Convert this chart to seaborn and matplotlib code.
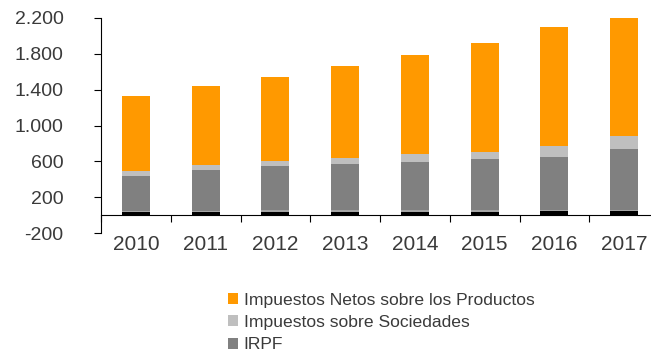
import matplotlib
matplotlib.use("Agg")
import matplotlib.pyplot as plt
from matplotlib.patches import Patch
import numpy as np
import pandas as pd
import seaborn as sns

years = ["2010", "2011", "2012", "2013", "2014", "2015", "2016", "2017"]
otros = [30, 32, 35, 36, 38, 40, 45, 48]
cotizaciones = [12, 12, 20, 20, 15, 15, 15, 10]
irpf = [395, 463, 493, 514, 543, 567, 588, 675]
sociedades = [52, 49, 59, 67, 89, 78, 119, 148]
productos = [844, 888, 934, 1026, 1104, 1226, 1329, 1323]

yticks = [-200, 200, 600, 1000, 1400, 1800, 2200]

series = [
    ("Otros", otros, "#000000"),
    ("Cotizaciones", cotizaciones, "#A6A6A6"),
    ("IRPF", irpf, "#808080"),
    ("Impuestos sobre Sociedades", sociedades, "#BFBFBF"),
    ("Impuestos Netos sobre los Productos", productos, "#FF9900"),
]

sns.set_theme(style="white")
plt.rcParams["font.family"] = ["Liberation Sans", "DejaVu Sans"]
text_color = "#3a3a3a"

fig = plt.figure(figsize=(6.51, 3.54), dpi=100)
ax = fig.add_axes([101 / 651, 1 - 233 / 354, 558 / 651, 215 / 354])

# stacked bars: draw cumulative totals from the top layer down
df = pd.DataFrame({"year": years})
cum = np.zeros(len(years))
cums = []
for name, vals, col in series:
    cum = cum + np.array(vals)
    cums.append((name, cum.copy(), col))
for name, vals, col in reversed(cums):
    sns.barplot(x=df["year"], y=vals, color=col, width=0.4, ax=ax,
                saturation=1, edgecolor="none", linewidth=0)

ax.set_xlim(-0.5, 7.5)
ax.set_ylim(-200, 2200)
ax.set_xlabel("")
ax.set_ylabel("")

for s in ["top", "right"]:
    ax.spines[s].set_visible(False)
ax.spines["bottom"].set_position(("data", 0))
ax.spines["bottom"].set_color("#000000")
ax.spines["left"].set_color("#000000")
ax.spines["bottom"].set_linewidth(0.8)
ax.spines["left"].set_linewidth(0.8)

ax.set_yticks(yticks)
ax.set_yticklabels([f"{v:,}".replace(",", ".") for v in yticks],
                   fontsize=14, color=text_color)
ax.tick_params(axis="y", direction="out", length=5, width=0.8,
               color="#000000", left=True, pad=22)

# category labels centred, ticks at category boundaries
ax.set_xticks(range(len(years)))
ax.set_xticklabels(years, fontsize=15, color=text_color)
ax.tick_params(axis="x", which="major", length=0, pad=14)
ax.set_xticks(np.arange(-0.5, len(years), 1.0), minor=True)
ax.tick_params(axis="x", which="minor", direction="out", length=5,
               width=0.8, color="#000000", bottom=True)
ax.grid(False)

handles = [Patch(facecolor=col, edgecolor="none", label=name)
           for name, vals, col in reversed(series[2:])]
fig.legend(handles=handles, loc="upper left",
           bbox_to_anchor=(219 / 651, 1 - 284 / 354),
           frameon=False, fontsize=12.6, labelcolor=text_color,
           handlelength=0.6, handleheight=0.6, handletextpad=0.3,
           labelspacing=0.42, borderpad=0)

fig.savefig("out.png", dpi=100)
